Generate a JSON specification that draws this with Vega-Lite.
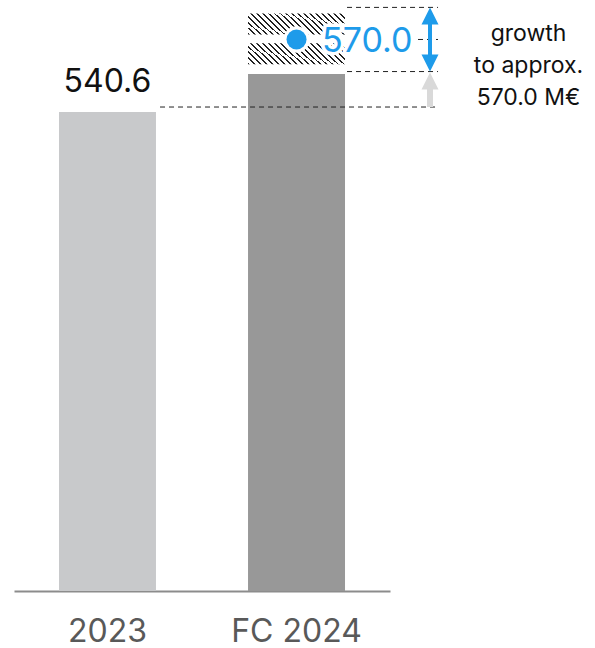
{
  "$schema": "https://vega.github.io/schema/vega-lite/v6.json",
  "width": 376,
  "height": 591,
  "autosize": "none",
  "padding": {"left": 14, "right": 205, "top": 0, "bottom": 57},
  "background": "#ffffff",
  "config": {"view": {"stroke": null}, "font": "Inter"},
  "datasets": {
    "bars": [{"cat": "2023", "v": 540.6}, {"cat": "FC 2024", "v": 556.0}],
    "hatch": [{"cat": "FC 2024", "v": 572.0, "v2": 580.5}, {"cat": "FC 2024", "v": 560.0, "v2": 568.5}],
    "actual": [{"cat": "2023", "v": 540.6}],
    "range": [{"cat": "FC 2024", "v": 583.0, "v2": 557.0}],
    "bounds": [{"cat": "FC 2024", "v": 583.0}, {"cat": "FC 2024", "v": 557.0}],
    "upper": [{"cat": "FC 2024", "v": 583.0}],
    "lower": [{"cat": "FC 2024", "v": 557.0}],
    "mid": [{"cat": "FC 2024", "v": 570.0}],
    "base": [{"cat": "FC 2024", "v": 540.6}],
    "growth": [{"cat": "FC 2024", "v": 540.6, "v2": 557.0}]
  },
  "encoding": {
    "x": {
      "field": "cat", "type": "nominal",
      "scale": {"domain": ["2023", "FC 2024"], "paddingInner": 0.487, "paddingOuter": 0.238},
      "axis": {"title": null, "labelAngle": 0, "ticks": false, "labelFontSize": 32, "labelColor": "#595959", "labelPadding": 25, "domainColor": "#8c8c8c", "domainWidth": 2, "labelFont": "Inter"}
    },
    "y": {"field": "v", "type": "quantitative", "scale": {"domain": [346.5, 586], "zero": false, "nice": false, "clamp": true}, "axis": null}
  },
  "layer": [
    {
      "data": {"name": "bars"},
      "mark": {"type": "bar"},
      "encoding": {
        "color": {"field": "cat", "type": "nominal", "scale": {"domain": ["2023", "FC 2024"], "range": ["#c8c9cb", "#989898"]}, "legend": null}
      }
    },
    {
      "data": {"name": "hatch"},
      "mark": {
        "type": "bar",
        "fill": {
          "gradient": "linear", "x1": 0, "y1": 1, "x2": 1.167, "y2": 0.735,
          "stops": [
            {"offset": 0, "color": "#222222"}, {"offset": 0.016, "color": "#222222"}, {"offset": 0.016, "color": "#ffffff"}, {"offset": 0.05, "color": "#ffffff"},
            {"offset": 0.05, "color": "#222222"}, {"offset": 0.066, "color": "#222222"}, {"offset": 0.066, "color": "#ffffff"}, {"offset": 0.1, "color": "#ffffff"},
            {"offset": 0.1, "color": "#222222"}, {"offset": 0.116, "color": "#222222"}, {"offset": 0.116, "color": "#ffffff"}, {"offset": 0.15, "color": "#ffffff"},
            {"offset": 0.15, "color": "#222222"}, {"offset": 0.166, "color": "#222222"}, {"offset": 0.166, "color": "#ffffff"}, {"offset": 0.2, "color": "#ffffff"},
            {"offset": 0.2, "color": "#222222"}, {"offset": 0.216, "color": "#222222"}, {"offset": 0.216, "color": "#ffffff"}, {"offset": 0.25, "color": "#ffffff"},
            {"offset": 0.25, "color": "#222222"}, {"offset": 0.266, "color": "#222222"}, {"offset": 0.266, "color": "#ffffff"}, {"offset": 0.3, "color": "#ffffff"},
            {"offset": 0.3, "color": "#222222"}, {"offset": 0.316, "color": "#222222"}, {"offset": 0.316, "color": "#ffffff"}, {"offset": 0.35, "color": "#ffffff"},
            {"offset": 0.35, "color": "#222222"}, {"offset": 0.366, "color": "#222222"}, {"offset": 0.366, "color": "#ffffff"}, {"offset": 0.4, "color": "#ffffff"},
            {"offset": 0.4, "color": "#222222"}, {"offset": 0.416, "color": "#222222"}, {"offset": 0.416, "color": "#ffffff"}, {"offset": 0.45, "color": "#ffffff"},
            {"offset": 0.45, "color": "#222222"}, {"offset": 0.466, "color": "#222222"}, {"offset": 0.466, "color": "#ffffff"}, {"offset": 0.5, "color": "#ffffff"},
            {"offset": 0.5, "color": "#222222"}, {"offset": 0.516, "color": "#222222"}, {"offset": 0.516, "color": "#ffffff"}, {"offset": 0.55, "color": "#ffffff"},
            {"offset": 0.55, "color": "#222222"}, {"offset": 0.566, "color": "#222222"}, {"offset": 0.566, "color": "#ffffff"}, {"offset": 0.6, "color": "#ffffff"},
            {"offset": 0.6, "color": "#222222"}, {"offset": 0.616, "color": "#222222"}, {"offset": 0.616, "color": "#ffffff"}, {"offset": 0.65, "color": "#ffffff"},
            {"offset": 0.65, "color": "#222222"}, {"offset": 0.666, "color": "#222222"}, {"offset": 0.666, "color": "#ffffff"}, {"offset": 0.7, "color": "#ffffff"},
            {"offset": 0.7, "color": "#222222"}, {"offset": 0.716, "color": "#222222"}, {"offset": 0.716, "color": "#ffffff"}, {"offset": 0.75, "color": "#ffffff"},
            {"offset": 0.75, "color": "#222222"}, {"offset": 0.766, "color": "#222222"}, {"offset": 0.766, "color": "#ffffff"}, {"offset": 0.8, "color": "#ffffff"},
            {"offset": 0.8, "color": "#222222"}, {"offset": 0.816, "color": "#222222"}, {"offset": 0.816, "color": "#ffffff"}, {"offset": 0.85, "color": "#ffffff"},
            {"offset": 0.85, "color": "#222222"}, {"offset": 0.866, "color": "#222222"}, {"offset": 0.866, "color": "#ffffff"}, {"offset": 0.9, "color": "#ffffff"},
            {"offset": 0.9, "color": "#222222"}, {"offset": 0.916, "color": "#222222"}, {"offset": 0.916, "color": "#ffffff"}, {"offset": 0.95, "color": "#ffffff"},
            {"offset": 0.95, "color": "#222222"}, {"offset": 0.966, "color": "#222222"}, {"offset": 0.966, "color": "#ffffff"}, {"offset": 1, "color": "#ffffff"}
          ]
        }
      },
      "encoding": {"y2": {"field": "v2"}}
    },
    {
      "data": {"name": "actual"},
      "mark": {"type": "text", "fontSize": 32, "baseline": "alphabetic", "dy": -20, "color": "#111111", "font": "Inter"},
      "encoding": {"text": {"field": "v", "type": "quantitative", "format": ".1f"}}
    },
    {
      "data": {"name": "base"},
      "mark": {"type": "rule", "strokeDash": [5, 4], "strokeWidth": 1, "color": "#222222", "yOffset": -5, "xOffset": -136.5, "x2Offset": 138.5},
      "encoding": {"x2": {"field": "cat"}}
    },
    {
      "data": {"name": "bounds"},
      "mark": {"type": "rule", "strokeDash": [5, 4], "strokeWidth": 1, "color": "#222222", "xOffset": 50.5, "x2Offset": 141.5},
      "encoding": {"x2": {"field": "cat"}}
    },
    {
      "data": {"name": "mid"},
      "mark": {"type": "rule", "strokeDash": [5, 4], "strokeWidth": 1, "color": "#222222", "xOffset": 121.5, "x2Offset": 141.5},
      "encoding": {"x2": {"field": "cat"}}
    },
    {
      "data": {"name": "growth"},
      "mark": {"type": "rule", "strokeWidth": 6, "color": "#d9d9d9", "xOffset": 133.5, "yOffset": -5, "y2Offset": 12},
      "encoding": {"y2": {"field": "v2"}}
    },
    {
      "data": {"name": "lower"},
      "mark": {"type": "point", "shape": "M0,-1L1,1L-1,1Z", "filled": true, "size": 289, "color": "#d9d9d9", "opacity": 1, "xOffset": 133.5, "yOffset": 9.5}
    },
    {
      "data": {"name": "range"},
      "mark": {"type": "rule", "strokeWidth": 4, "color": "#1E9BEA", "xOffset": 133.5, "yOffset": 8, "y2Offset": -8},
      "encoding": {"y2": {"field": "v2"}}
    },
    {
      "data": {"name": "upper"},
      "mark": {"type": "point", "shape": "M0,-1L1,1L-1,1Z", "filled": true, "size": 289, "color": "#1E9BEA", "opacity": 1, "xOffset": 133.5, "yOffset": 8.5}
    },
    {
      "data": {"name": "lower"},
      "mark": {"type": "point", "shape": "M0,1L1,-1L-1,-1Z", "filled": true, "size": 289, "color": "#1E9BEA", "opacity": 1, "xOffset": 133.5, "yOffset": -8.5}
    },
    {
      "data": {"name": "mid"},
      "mark": {"type": "point", "shape": "circle", "filled": true, "size": 700, "color": "#ffffff", "opacity": 1}
    },
    {
      "data": {"name": "mid"},
      "mark": {"type": "point", "shape": "circle", "filled": true, "size": 400, "color": "#1E9BEA", "opacity": 1}
    },
    {
      "data": {"name": "mid"},
      "mark": {"type": "text", "fontSize": 34, "align": "left", "baseline": "alphabetic", "xOffset": 25.5, "yOffset": 13, "color": "#ffffff", "stroke": "#ffffff", "strokeWidth": 7, "strokeJoin": "round", "font": "Inter"},
      "encoding": {"text": {"field": "v", "type": "quantitative", "format": ".1f"}}
    },
    {
      "data": {"name": "mid"},
      "mark": {"type": "text", "fontSize": 34, "align": "left", "baseline": "alphabetic", "xOffset": 25.5, "yOffset": 13, "color": "#1E9BEA", "font": "Inter"},
      "encoding": {"text": {"field": "v", "type": "quantitative", "format": ".1f"}}
    },
    {
      "data": {"name": "mid"},
      "mark": {"type": "text", "text": ["growth", "to approx.", "570.0 M€"], "fontSize": 23, "lineHeight": 32, "align": "center", "baseline": "alphabetic", "xOffset": 232, "yOffset": 2, "color": "#111111", "font": "Inter"}
    }
  ]
}
